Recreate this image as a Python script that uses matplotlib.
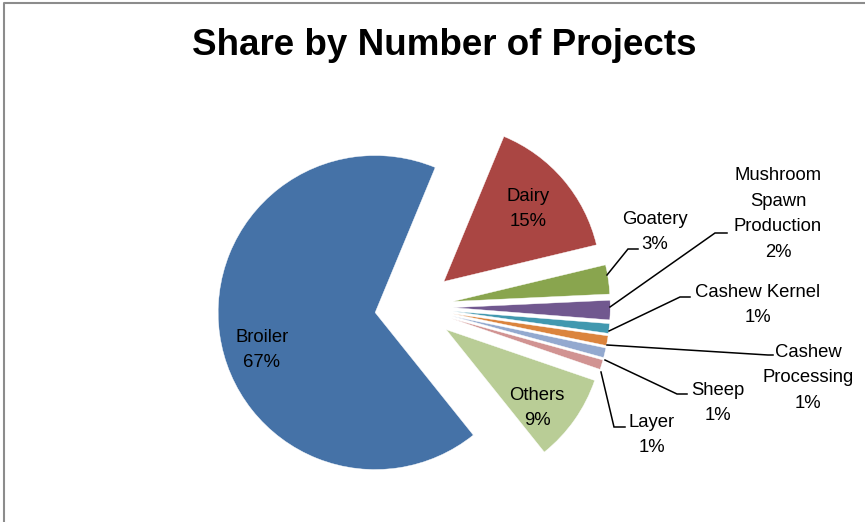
import matplotlib
matplotlib.use("Agg")
import matplotlib.pyplot as plt

# data
categories = ["Dairy", "Goatery", "Mushroom\nSpawn\nProduction", "Cashew Kernel",
              "Cashew\nProcessing", "Sheep", "Layer", "Others", "Broiler"]
shares = [15, 3, 2, 1, 1, 1, 1, 9, 67]
colors = ["#AA4643", "#89A54E", "#71588F", "#4198AF", "#DB843D",
          "#93A9CF", "#D19392", "#B9CD96", "#4572A7"]

W, H = 865, 522
R = 157.0  # pie radius in pixels


def to_data(px, py):
    # picture pixels (y down) -> axes data units (radius = 1)
    return px / R, (H - py) / R


plt.rcParams["font.family"] = ["Liberation Sans", "DejaVu Sans"]

fig = plt.figure(figsize=(W / 100, H / 100), dpi=100)
ax = fig.add_axes([0, 0, 1, 1])

ax.pie(shares, colors=colors, startangle=67.5, counterclock=False,
       radius=1, center=to_data(414, 307), explode=[0.25] * len(shares),
       wedgeprops=dict(linewidth=0.3, edgecolor="white"))

ax.set_xlim(0, W / R)
ax.set_ylim(0, H / R)
ax.set_aspect("equal")
ax.axis("off")

# labels: (x, y) of text block centre in pixels
label_pos = {
    "Dairy": (528, 209),
    "Goatery": (655, 232),
    "Mushroom\nSpawn\nProduction": (778, 214),
    "Cashew Kernel": (758, 305),
    "Cashew\nProcessing": (808, 378),
    "Sheep": (718, 403),
    "Layer": (652, 435),
    "Others": (537, 408),
    "Broiler": (262, 350),
}
for cat, val in zip(categories, shares):
    x, y = to_data(*label_pos[cat])
    ax.text(x, y, f"{cat}\n{val}%", ha="center", va="center",
            fontsize=13.3, linespacing=1.65, color="black")

# leader lines
leaders = [
    [(607, 275), (628, 249), (638, 249)],
    [(610, 307), (715, 233), (727, 233)],
    [(609, 331), (680, 297), (690, 297)],
    [(607, 345), (768, 355), (773, 355)],
    [(605, 360), (677, 394), (687, 394)],
    [(601, 372), (614, 427), (625, 427)],
]
for pts in leaders:
    xs, ys = zip(*[to_data(px, py) for px, py in pts])
    ax.plot(xs, ys, color="black", lw=1.1, solid_joinstyle="miter")

# title
tx, ty = to_data(444.5, 55)
ax.text(tx, ty, "Share by Number of Projects", ha="center", va="baseline",
        fontsize=26.5, fontweight="bold")

# chart frame (only left and top edges visible)
fx, fy = zip(*[to_data(px, py) for px, py in [(4, H + 5), (4, 3), (W + 5, 3)]])
ax.plot(fx, fy, color="#8c8c8c", lw=1.5, clip_on=False)

fig.savefig("out.png", dpi=100)
